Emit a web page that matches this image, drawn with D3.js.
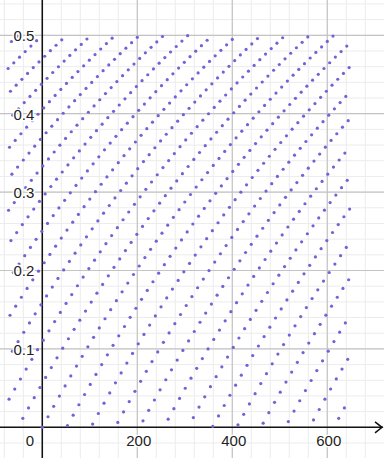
<!DOCTYPE html>
<html>
<head>
<meta charset="utf-8">
<script src="https://cdn.jsdelivr.net/npm/d3@7"></script>
<style>
  html, body { margin: 0; padding: 0; background: #fff; }
  svg { display: block; }
  .lbl { font-family: "Liberation Sans", Arial, sans-serif; font-size: 15px; fill: #222; }
</style>
</head>
<body>
<svg id="chart" width="384" height="458"></svg>
<script>
// ---- data ----
// one point per integer index n, from the first to the last index visible
const indexRange = [-72, 647];
// the vertical value of point n: 1 - 2^-(fractional part of n * log2(3))
const ratioBase = 3;
const wrapBase = 2;
// axis tick labels
const xTicks = [0, 200, 400, 600];
const yTicks = [0.1, 0.2, 0.3, 0.4, 0.5];
const xMinorStep = 40;
const yMinorStep = 0.02;

const nValues = d3.range(indexRange[0], indexRange[1] + 1);
const logR = Math.log(ratioBase) / Math.log(wrapBase);
const points = nValues.map(n => {
  const t = n * logR;
  const s = t - Math.floor(t);
  return { x: n, y: 1 - Math.pow(wrapBase, -s) };
});

// ---- layout ----
const W = 384, H = 458;
const svg = d3.select("#chart");
const x = d3.scaleLinear().domain([-89.05, 719.4]).range([0, W]);
const y = d3.scaleLinear().domain([-0.03916, 0.54503]).range([H, 0]);

// minor grid
const xMinor = d3.range(-80, 720, xMinorStep);
const yMinor = d3.range(-2, 28).map(i => i * yMinorStep);
const g = svg.append("g");
g.selectAll(".vmin").data(xMinor).join("line")
  .attr("x1", d => x(d)).attr("x2", d => x(d)).attr("y1", 0).attr("y2", H)
  .attr("stroke", "#ececec").attr("stroke-width", 1);
g.selectAll(".hmin").data(yMinor).join("line")
  .attr("y1", d => y(d)).attr("y2", d => y(d)).attr("x1", 0).attr("x2", W)
  .attr("stroke", "#ececec").attr("stroke-width", 1);
// major grid
g.selectAll(".vmaj").data([-200].concat(xTicks)).join("line")
  .attr("x1", d => x(d)).attr("x2", d => x(d)).attr("y1", 0).attr("y2", H)
  .attr("stroke", "#c4c4c4").attr("stroke-width", 1.2);
g.selectAll(".hmaj").data(yTicks).join("line")
  .attr("y1", d => y(d)).attr("y2", d => y(d)).attr("x1", 0).attr("x2", W)
  .attr("stroke", "#c4c4c4").attr("stroke-width", 1.2);

// axes lines
svg.append("line").attr("x1", 0).attr("x2", W - 1).attr("y1", y(0)).attr("y2", y(0))
  .attr("stroke", "#111").attr("stroke-width", 1.5);
svg.append("line").attr("x1", x(0)).attr("x2", x(0)).attr("y1", 0).attr("y2", H)
  .attr("stroke", "#111").attr("stroke-width", 1.5);
// arrow at right end of x axis
svg.append("path")
  .attr("d", `M${W - 9},${y(0) - 5.5}L${W - 2},${y(0)}L${W - 9},${y(0) + 5.5}`)
  .attr("fill", "none").attr("stroke", "#111").attr("stroke-width", 1.5);

// points
svg.append("g").selectAll("circle").data(points).join("circle")
  .attr("cx", d => x(d.x)).attr("cy", d => y(d.y)).attr("r", 1.6)
  .attr("fill", "#7262d6");

// tick labels via d3 axes
const xAxis = d3.axisBottom(x).tickValues(xTicks).tickSize(0).tickPadding(0)
  .tickFormat(d => d3.format("d")(d));
const xa = svg.append("g").attr("transform", `translate(0,${y(0) + 8})`).call(xAxis);
xa.select(".domain").remove();
xa.selectAll("text").attr("class", "lbl").attr("dy", "0.71em")
  .attr("dx", d => d === 0 ? -13 : 1)
  .attr("font-size", null).attr("font-family", null).attr("fill", null)
  .style("paint-order", "stroke").attr("stroke", "#fff").attr("stroke-width", 3);

const yAxis = d3.axisLeft(y).tickValues(yTicks).tickSize(0).tickPadding(0)
  .tickFormat(d3.format(".1f"));
const ya = svg.append("g").attr("transform", `translate(${x(0) - 8},0)`).call(yAxis);
ya.select(".domain").remove();
ya.selectAll("text").attr("class", "lbl").attr("dy", "0.36em")
  .attr("font-size", null).attr("font-family", null).attr("fill", null)
  .style("paint-order", "stroke").attr("stroke", "#fff").attr("stroke-width", 3);
</script>
</body>
</html>
